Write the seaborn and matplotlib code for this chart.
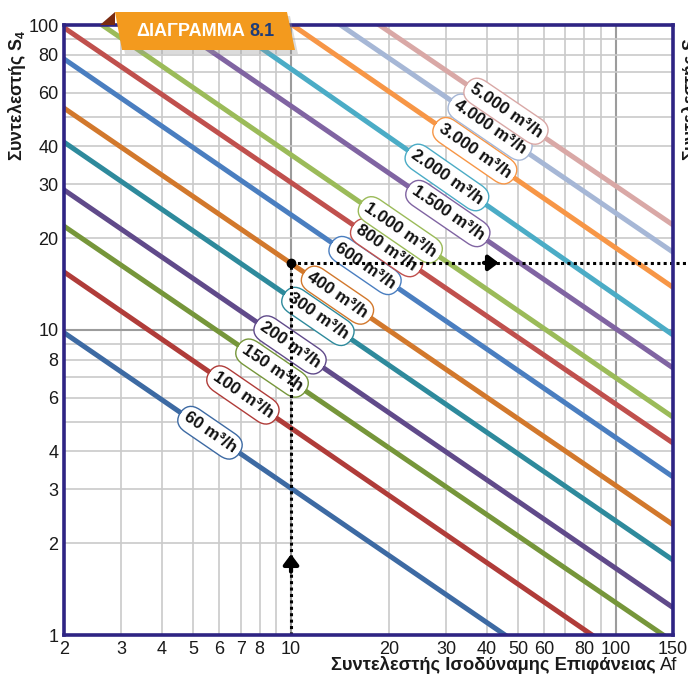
import numpy as np
import pandas as pd
import matplotlib
matplotlib.use("Agg")
import matplotlib.pyplot as plt
import seaborn as sns
from matplotlib.patches import Polygon

sns.set_style("white")
plt.rcParams['font.family'] = ['Liberation Sans', 'DejaVu Sans']

flows = [60, 100, 150, 200, 300, 400, 600, 800, 1000, 1500, 2000, 3000, 4000, 5000]
flow_labels = ["60 m³/h", "100 m³/h", "150 m³/h", "200 m³/h", "300 m³/h", "400 m³/h",
               "600 m³/h", "800 m³/h", "1.000 m³/h", "1.500 m³/h", "2.000 m³/h",
               "3.000 m³/h", "4.000 m³/h", "5.000 m³/h"]
af_start = [2, 2, 2, 2, 2, 2, 2, 2, 2.62, 4.33, 6.4, 10.1, 14.2, 18.7]
s4_start = [9.8, 15.5, 21.9, 28.8, 41.3, 53.4, 77.4, 98, 100, 100, 100, 100, 100, 100]
af_end = [45.6, 84.5, 140, 150, 150, 150, 150, 150, 150, 150, 150, 150, 150, 150]
s4_end = [1, 1, 1, 1.23, 1.76, 2.3, 3.3, 4.26, 5.18, 7.51, 9.63, 13.8, 18.0, 22.1]

# example reading: Af = 10 -> S4 on the 400 m3/h line
example_af = 10
example_s4 = 16.6

xtick_vals = [2, 3, 4, 5, 6, 7, 8, 10, 20, 30, 40, 50, 60, 80, 100, 150]
ytick_vals = [1, 2, 3, 4, 6, 8, 10, 20, 30, 40, 60, 80, 100]

colors = ["#3d6aa3", "#b03c39", "#76963a", "#604a8a", "#2e8a9c", "#d2782c",
          "#4a7ec0", "#c0504d", "#9bbb59", "#8064a2", "#4bacc6", "#f79646",
          "#a6b7d6", "#d9a8a6"]
# where along each line the label box sits (Af)
label_af = [5.63, 7.11, 8.74, 9.93, 12.1, 13.9, 16.9, 19.7, 21.7, 30.4, 30.2, 36.8, 41.0, 45.9]

df = pd.DataFrame({
    "Af": af_start + af_end,
    "S4": s4_start + s4_end,
    "flow": flows + flows,
})

fig = plt.figure(figsize=(6.88, 6.76), dpi=100)
ax = fig.add_axes([64 / 688, 1 - 635 / 676, 609 / 688, 610 / 676])
ax.set_xscale("log")
ax.set_yscale("log")
ax.set_xlim(2, 150)
ax.set_ylim(1, 100)

# grid
for v in [3, 4, 5, 6, 7, 8, 9, 20, 30, 40, 50, 60, 70, 80, 90]:
    ax.axvline(v, color="#cacaca", lw=1.2, zorder=0)
for v in [10, 100]:
    ax.axvline(v, color="#9c9c9c", lw=1.5, zorder=0)
for v in [2, 3, 4, 5, 6, 7, 8, 9, 20, 30, 40, 50, 60, 70, 80, 90]:
    ax.axhline(v, color="#cacaca", lw=1.2, zorder=0)
ax.axhline(10, color="#9c9c9c", lw=1.5, zorder=0)

sns.lineplot(data=df, x="Af", y="S4", hue="flow", units="flow", estimator=None,
             sort=False, palette=dict(zip(flows, colors)), legend=False,
             lw=3.6, ax=ax, zorder=2)
for ln in ax.get_lines()[-len(flows):]:
    ln.set_solid_capstyle("projecting")

# label boxes along the lines
for i, lab in enumerate(flow_labels):
    lx0, lx1 = np.log10(af_start[i]), np.log10(af_end[i])
    ly0, ly1 = np.log10(s4_start[i]), np.log10(s4_end[i])
    t = (np.log10(label_af[i]) - lx0) / (lx1 - lx0)
    ly = 10 ** (ly0 + t * (ly1 - ly0))
    p0 = ax.transData.transform((af_start[i], s4_start[i]))
    p1 = ax.transData.transform((af_end[i], s4_end[i]))
    ang = np.degrees(np.arctan2(p1[1] - p0[1], p1[0] - p0[0]))
    ax.text(label_af[i], ly, lab, rotation=ang, rotation_mode="anchor",
            ha="center", va="center", fontsize=12.3, fontweight="bold", zorder=5,
            color="#111111",
            bbox=dict(boxstyle="round,pad=0.34,rounding_size=0.85", fc="white",
                      ec=colors[i], lw=1.0))

# example path
ax.plot([example_af, example_af], [1, example_s4], color="black", ls=(0, (1, 1.1)),
        lw=2.2, zorder=6)
ax.plot([example_af, 168], [example_s4, example_s4], color="black", ls=(0, (1, 1.1)),
        lw=2.2, zorder=6, clip_on=False)
ax.plot([example_af], [example_s4], "o", color="black", ms=6, zorder=7)
ax.annotate("", xy=(example_af, 1.88), xytext=(example_af, 1.58),
            arrowprops=dict(arrowstyle="-|>,head_width=0.45,head_length=0.6",
                            color="black", lw=3.0), zorder=7)
ax.annotate("", xy=(44.5, example_s4), xytext=(38.5, example_s4),
            arrowprops=dict(arrowstyle="-|>,head_width=0.45,head_length=0.6",
                            color="black", lw=3.0), zorder=7)

# axes styling
for sp in ax.spines.values():
    sp.set_color("#2e2483")
    sp.set_linewidth(2.6)
    sp.set_zorder(8)
ax.set_xticks(xtick_vals)
ax.set_xticklabels([str(v) for v in xtick_vals])
ax.set_yticks(ytick_vals)
ax.set_yticklabels([str(v) for v in ytick_vals])
ax.xaxis.set_minor_locator(matplotlib.ticker.NullLocator())
ax.yaxis.set_minor_locator(matplotlib.ticker.NullLocator())
ax.tick_params(length=0, labelsize=13, colors="#1a1a1a")
ax.tick_params(axis="x", pad=4)
ax.tick_params(axis="y", pad=4)
ax.set_xlabel("")
ax.set_ylabel("")

# axis titles
fig.text(17 / 688, 1 - 95 / 676, "Συντελεστής S$_{\\mathregular{4}}$", rotation=90,
         ha="center", va="center", fontsize=12.8, fontweight="bold", color="#1a1a1a")
fig.text(680 / 688, 1 - 95 / 676, "Συντελεστής S$_{\\mathregular{4}}$", rotation=90,
         ha="left", va="center", fontsize=12.8, fontweight="bold", color="#1a1a1a")
fig.text(656 / 688, 1 - 665 / 676, "Συντελεστής Ισοδύναμης Επιφάνειας", ha="right",
         va="center", fontsize=13.2, fontweight="bold", color="#1a1a1a")
fig.text(660 / 688, 1 - 665 / 676, "Af", ha="left", va="center", fontsize=13.2,
         color="#1a1a1a")

# title badge
def fxy(pts):
    return [(x / 688, 1 - y / 676) for x, y in pts]

fig.patches.append(Polygon(fxy([(118, 16), (290, 16), (298, 54), (125, 54)]),
                           closed=True, fc="#9a9a9a", ec="none", alpha=0.35,
                           transform=fig.transFigure, zorder=9))
fig.patches.append(Polygon(fxy([(100, 25), (115, 12), (115, 25)]), closed=True,
                           fc="#7a2a10", ec="none", transform=fig.transFigure, zorder=10))
fig.patches.append(Polygon(fxy([(115, 12), (287, 12), (295, 50), (122, 50)]),
                           closed=True, fc="#f39a1e", ec="none",
                           transform=fig.transFigure, zorder=10))
fig.text(245 / 688, 1 - 32 / 676, "ΔΙΑΓΡΑΜΜΑ", ha="right", va="center",
         fontsize=13, fontweight="bold", color="white", zorder=11)
fig.text(249 / 688, 1 - 32 / 676, "8.1", ha="left", va="center",
         fontsize=13, fontweight="bold", color="#1d3c7a", zorder=11)

fig.savefig("out.png", dpi=100)
